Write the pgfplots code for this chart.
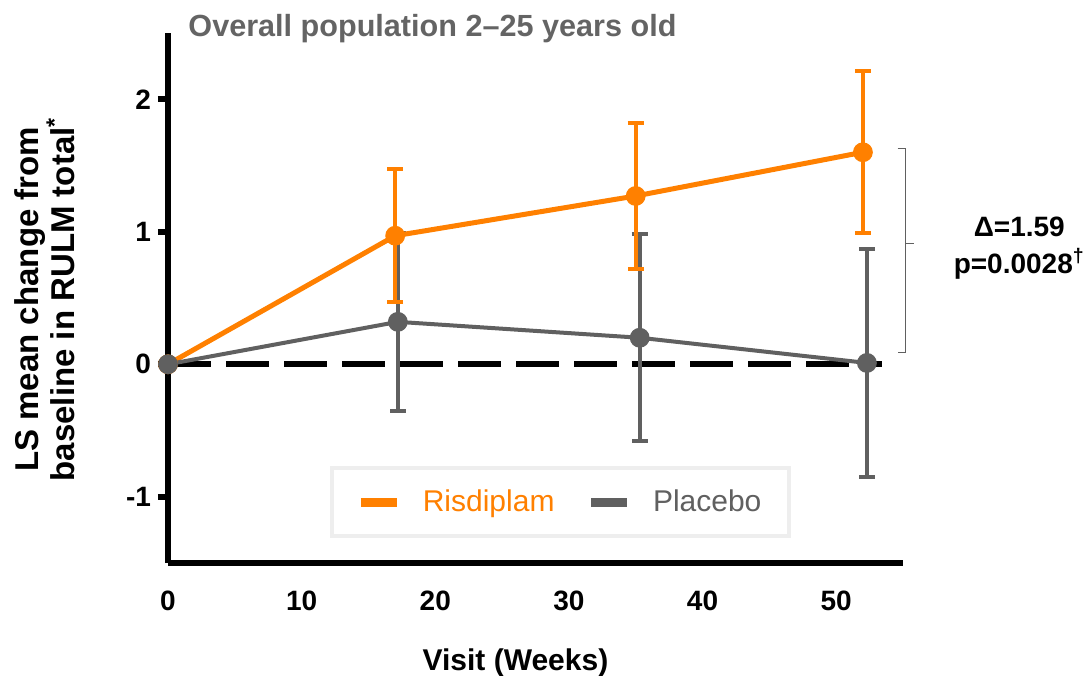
\documentclass[border=0pt]{standalone}
\usepackage{fontspec}
\setmainfont{Liberation Sans}
\usepackage{pgfplots}
\pgfplotsset{compat=1.18}
\definecolor{ris}{RGB}{255,128,0}
\definecolor{pla}{RGB}{96,96,96}
\definecolor{ttl}{RGB}{100,100,100}
\definecolor{lgb}{RGB}{238,238,238}
\begin{document}
\begin{tikzpicture}
\begin{axis}[name=ax, scale only axis, width=367.5pt, height=265pt,
 xmin=0, xmax=55, ymin=-1.5, ymax=2.5,
 axis x line*=bottom, axis y line*=left,
 axis line style={line width=3pt, black},
 xtick={0,10,20,30,40,50}, xticklabels={0,10,20,30,40,50},
 ytick={-1,0,1,2}, yticklabels={-1,0,1,2},
 xtick style={draw=none},
 ytick style={line width=3pt, black},
 tick align=outside, major tick length=5pt,
 ticklabel style={font=\bfseries\fontsize{14}{14}\selectfont},
 xticklabel style={yshift=-5.5pt},
 clip=false,
 legend columns=2,
 legend style={at={(axis cs:29.4,-1.04)}, anchor=center, draw=lgb, line width=2pt, fill=white,
   inner xsep=12pt, inner ysep=9pt, font=\fontsize{15}{15}\selectfont,
   /tikz/every even column/.append style={column sep=14pt}},
 legend image code/.code={\draw[line width=4.5pt, solid] (0pt,0pt) -- (18pt,0pt);\path[draw=none, fill=none] (0pt,0pt) -- (29pt,0pt);},
]
% zero reference line
\addplot[black, line width=3pt, dash pattern=on 21.5pt off 7.5pt, forget plot] coordinates {(0,0) (53.4,0)};
% placebo error bars (drawn beneath)
\addplot[draw=none, mark=none, forget plot,
  error bars/.cd, y dir=both, y explicit,
  error bar style={draw=pla, line width=2pt, solid},
  error mark options={rotate=90, draw=pla, mark size=4pt, line width=2pt}]
  coordinates {(17.2,0.32) +- (0,0.67) (35.3,0.20) +- (0,0.78) (52.3,0.01) +- (0,0.86)};
% risdiplam
\addplot[ris, line width=2.5pt, mark=*, mark size=4.7pt, mark options={solid, fill=ris, draw=ris, line width=0.5pt},
  error bars/.cd, y dir=both, y explicit,
  error bar style={draw=ris, line width=2pt, solid},
  error mark options={rotate=90, draw=ris, mark size=4pt, line width=2pt}]
  coordinates {(0,0) +- (0,0) (17,0.97) +- (0,0.50) (35,1.27) +- (0,0.55) (52,1.60) +- (0,0.61)};
\addlegendentry{\textcolor{ris}{Risdiplam}}
% placebo
\addplot[pla, line width=2pt, mark=*, mark size=4.7pt, mark options={solid, fill=pla, draw=pla, line width=0.5pt}]
  coordinates {(0,0) (17.2,0.32) (35.3,0.20) (52.3,0.01)};
\addlegendentry{\textcolor{pla}{Placebo}\hspace{4pt}}
% texts
\node[anchor=west, font=\bfseries\fontsize{15.3}{15.3}\selectfont, text=ttl, inner sep=0pt] at (axis cs:1.5,2.53) {Overall population 2–25 years old};
\node[rotate=90, align=center, font=\bfseries\fontsize{16.5}{18}\selectfont, inner sep=0pt] at (axis cs:-9.2,0.49) {LS mean change from\\baseline in RULM total\textsuperscript{*}};
\node[font=\bfseries\fontsize{15}{15}\selectfont, inner sep=0pt] at (axis cs:26,-2.25) {Visit (Weeks)};
\draw[pla, line width=0.6pt] (axis cs:54.6,1.63) -- (axis cs:55.2,1.63) -- (axis cs:55.2,0.09) -- (axis cs:54.6,0.09);
\draw[pla, line width=0.6pt] (axis cs:55.2,0.91) -- (axis cs:55.8,0.91);
\node[align=center, font=\bfseries\fontsize{14}{18.5}\selectfont, inner sep=0pt] at (axis cs:63.7,0.88) {Δ=1.59\\p=0.0028\textsuperscript{†}};
\end{axis}
\pgfresetboundingbox
\path[use as bounding box] ([xshift=-84pt,yshift=-56pt]ax.south west) rectangle ([xshift=458.5pt,yshift=281.5pt]ax.south west);
\end{tikzpicture}
\end{document}
